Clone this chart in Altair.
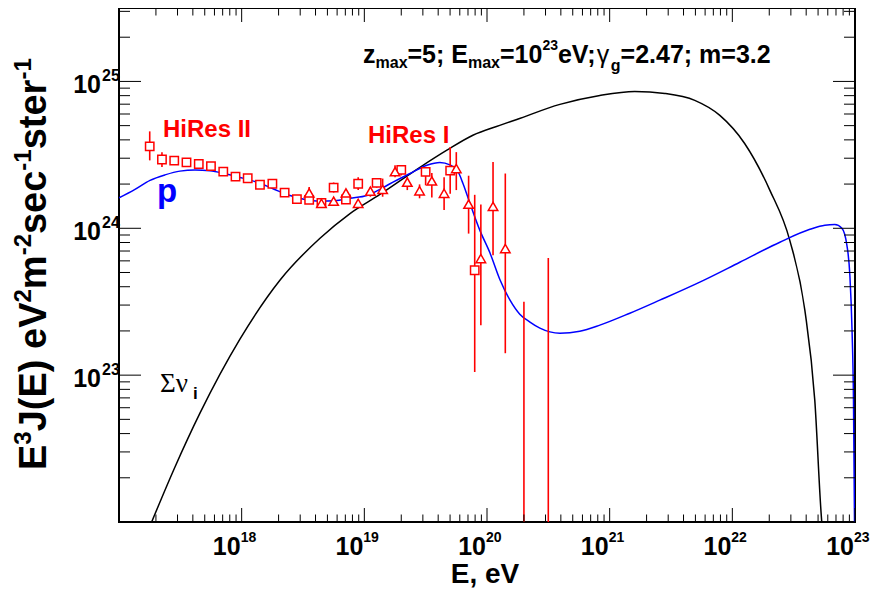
import altair as alt
import pandas as pd

# ---------------- data ----------------
# Sum of neutrino fluxes (black curve)
nu_E = [1.79e17, 2.86e17, 4.57e17, 9.68e17, 2.05e18, 4.35e18, 7.64e18, 1.34e19, 2.84e19, 4.71e19,
        7.67e19, 1.27e20, 1.75e20, 3.93e20, 8.32e20, 1.60e21, 2.82e21, 4.94e21, 7.91e21, 1.26e22,
        2.02e22, 2.94e22, 3.90e22, 4.70e22, 5.36e22, 5.50e22]
nu_F = [9.4e21, 2.37e22, 5.51e22, 1.76e23, 4.43e23, 8.55e23, 1.26e24, 1.70e24, 2.60e24, 3.40e24,
        4.30e24, 5.02e24, 5.51e24, 6.98e24, 8.03e24, 8.55e24, 8.28e24, 7.43e24, 5.87e24, 3.78e24,
        1.82e24, 8.28e23, 2.77e23, 6.76e22, 1.0e22, 8.0e21]

# protons (blue curve)
p_E = [1.00e17, 1.35e17, 1.79e17, 2.37e17, 3.14e17, 4.16e17, 5.52e17, 7.31e17, 9.68e17, 1.33e18,
       1.80e18, 2.48e18, 3.28e18, 4.35e18, 5.75e18, 7.64e18, 1.05e19, 1.34e19, 1.62e19, 2.36e19,
       3.24e19, 4.13e19, 4.99e19, 5.79e19, 6.37e19, 7.26e19, 8.75e19, 1.06e20, 1.27e20, 1.54e20,
       1.85e20, 2.24e20, 2.70e20, 3.26e20, 3.93e20, 5.71e20, 8.32e20, 1.46e21, 2.56e21, 5.43e21,
       1.15e22, 2.44e22, 4.29e22, 5.68e22, 6.85e22, 7.82e22, 8.59e22, 9.08e22, 9.46e22, 9.72e22,
       9.91e22]
p_F = [1.61e24, 1.84e24, 2.12e24, 2.31e24, 2.45e24, 2.49e24, 2.46e24, 2.35e24, 2.22e24, 2.06e24,
       1.86e24, 1.67e24, 1.57e24, 1.53e24, 1.54e24, 1.60e24, 1.67e24, 1.84e24, 2.01e24, 2.36e24,
       2.69e24, 2.81e24, 2.70e24, 2.44e24, 2.02e24, 1.48e24, 9.68e23, 6.76e23, 4.50e23, 3.24e23,
       2.60e23, 2.30e23, 2.09e23, 1.97e23, 1.93e23, 1.99e23, 2.19e23, 2.64e23, 3.24e23, 4.30e23,
       5.87e23, 8.04e23, 9.84e23, 1.05e24, 1.06e24, 1.00e24, 7.66e23, 4.79e23, 2.02e23, 6.76e22,
       1.0e22]

# HiRes II (open squares)
h2_E = [1.78e17, 2.24e17, 2.82e17, 3.55e17, 4.47e17, 5.62e17, 7.08e17, 8.91e17, 1.12e18, 1.41e18,
        1.78e18, 2.24e18, 2.82e18, 3.55e18, 4.47e18, 5.62e18, 7.08e18, 8.91e18, 1.26e19, 2.00e19,
        3.16e19, 5.01e19, 7.94e19]
h2_F = [3.61e24, 2.94e24, 2.89e24, 2.81e24, 2.74e24, 2.65e24, 2.43e24, 2.25e24, 2.19e24, 1.98e24,
        2.01e24, 1.75e24, 1.58e24, 1.56e24, 1.49e24, 1.89e24, 1.57e24, 2.01e24, 2.04e24, 2.50e24,
        2.42e24, 2.47e24, 5.18e23]
h2_lo = [2.90e24, 2.61e24, 2.78e24, 2.70e24, 2.63e24, 2.54e24, 2.33e24, 2.15e24, 2.09e24, 1.89e24,
         1.91e24, 1.66e24, 1.50e24, 1.47e24, 1.41e24, 1.75e24, 1.48e24, 1.82e24, 1.89e24, 2.29e24,
         1.96e24, 1.72e24, 1.05e23]
h2_hi = [4.57e24, 3.30e24, 3.00e24, 2.92e24, 2.85e24, 2.76e24, 2.53e24, 2.35e24, 2.29e24, 2.07e24,
         2.11e24, 1.84e24, 1.66e24, 1.65e24, 1.57e24, 2.05e24, 1.66e24, 2.23e24, 2.18e24, 2.69e24,
         2.61e24, 3.57e24, 1.69e24]

# HiRes I (open triangles); last two points lie below the frame, only their bars show
h1_E = [3.55e18, 4.47e18, 5.62e18, 7.08e18, 8.91e18, 1.12e19, 1.41e19, 1.78e19, 2.24e19, 2.82e19,
        3.55e19, 4.47e19, 5.62e19, 7.08e19, 8.91e19, 1.12e20, 1.41e20, 2.00e20, 3.16e20]
h1_F = [1.74e24, 1.48e24, 1.53e24, 1.74e24, 1.48e24, 1.79e24, 1.84e24, 2.43e24, 2.06e24, 1.80e24,
        2.10e24, 1.73e24, 2.55e24, 1.46e24, 6.22e23, 1.41e24, 7.28e23, 5.0e21, 5.0e21]
h1_lo = [1.60e24, 1.42e24, 1.47e24, 1.64e24, 1.40e24, 1.64e24, 1.64e24, 2.23e24, 1.82e24, 1.60e24,
         1.62e24, 1.33e24, 1.82e24, 9.2e23, 2.19e23, 6.55e23, 1.41e23, 1.0e21, 1.0e21]
h1_hi = [1.91e24, 1.55e24, 1.60e24, 1.85e24, 1.56e24, 1.91e24, 2.18e24, 2.69e24, 2.23e24, 1.99e24,
         2.38e24, 2.23e24, 3.30e24, 2.28e24, 1.45e24, 2.83e24, 2.36e24, 3.16e23, 6.28e23]

# axis ticks and labels
x_major = [1e17, 1e18, 1e19, 1e20, 1e21, 1e22, 1e23]
x_label_vals = [1e18, 1e19, 1e20, 1e21, 1e22, 1e23]
x_label_exp = ["18", "19", "20", "21", "22", "23"]
y_major = [1e22, 1e23, 1e24, 1e25]
y_label_vals = [1e23, 1e24, 1e25]
y_label_exp = ["23", "24", "25"]
minor_mult = [2, 3, 4, 5, 6, 7, 8, 9]
X_DOMAIN = [1e17, 1e23]
Y_DOMAIN = [1e22, 3.162e25]

# ---------------- layout ----------------
W, H = 736, 514
LEFT, TOP = 119, 8          # page position of the plot area
FONT = "Liberation Sans"
RED, BLUE = "#ff0000", "#0000ff"

x_minor = [m * e for e in x_major[:-1] for m in minor_mult]
y_minor = [m * e for e in y_major for m in minor_mult if m * e < Y_DOMAIN[1]]

xs = alt.Scale(type="log", domain=X_DOMAIN, nice=False)
ys = alt.Scale(type="log", domain=Y_DOMAIN, nice=False)
X = alt.X("E:Q", scale=xs, axis=None)
Y = alt.Y("F:Q", scale=ys, axis=None)

ONE = pd.DataFrame({"k": [0]})

AW = {' ': 278, '(': 333, ')': 333, ',': 278, '-': 333, '.': 278, ';': 333, '=': 584,
      'E': 667, 'J': 556, 'V': 667, 'a': 556, 'c': 556, 'e': 556, 'g': 611, 'm': 889,
      'r': 389, 's': 556, 't': 333, 'x': 556, 'z': 500, 'γ': 556}


def tw(s, size):
    return sum(AW.get(c, 556) for c in s) * size / 1000.0


def label(t, x, y, size, color="black", weight="bold", align="left", angle=0, font=FONT):
    return alt.Chart(ONE).mark_text(
        text=t, fontSize=size, fontWeight=weight, color=color, align=align,
        baseline="alphabetic", angle=angle, font=font
    ).encode(x=alt.value(x - LEFT), y=alt.value(y - TOP))


layers = []

# curves
layers.append(alt.Chart(pd.DataFrame({"E": nu_E, "F": nu_F})).mark_line(
    color="black", strokeWidth=1.5, clip=True, interpolate="monotone").encode(x=X, y=Y))
layers.append(alt.Chart(pd.DataFrame({"E": p_E, "F": p_F})).mark_line(
    color=BLUE, strokeWidth=1.5, clip=True, interpolate="monotone").encode(x=X, y=Y))

# data with error bars
h2 = pd.DataFrame({"E": h2_E, "F": h2_F, "lo": h2_lo, "hi": h2_hi})
h1 = pd.DataFrame({"E": h1_E, "F": h1_F, "lo": h1_lo, "hi": h1_hi})
for d in (h2, h1):
    layers.append(alt.Chart(d).mark_rule(color=RED, strokeWidth=1.6, clip=True).encode(
        x=X, y=alt.Y("lo:Q", scale=ys, axis=None), y2="hi:Q"))
layers.append(alt.Chart(h2).mark_point(shape="square", size=70, stroke=RED, fill="white",
                                       fillOpacity=1, strokeWidth=1.5, clip=True).encode(x=X, y=Y))
layers.append(alt.Chart(h1).mark_point(shape="triangle-up", size=90, stroke=RED, fill="white",
                                       fillOpacity=1, strokeWidth=1.5, clip=True).encode(x=X, y=Y))


# ticks (inside the frame)
def xticks(vals, length):
    d = pd.DataFrame({"E": vals})
    bot = alt.Chart(d).mark_rule(color="black", strokeWidth=1).encode(
        x=X, y=alt.value(H), y2=alt.value(H - length))
    top = alt.Chart(d).mark_rule(color="black", strokeWidth=1).encode(
        x=X, y=alt.value(0), y2=alt.value(length))
    return [bot, top]


def yticks(vals, length):
    d = pd.DataFrame({"F": vals})
    lft = alt.Chart(d).mark_rule(color="black", strokeWidth=1).encode(
        y=Y, x=alt.value(0), x2=alt.value(length))
    rgt = alt.Chart(d).mark_rule(color="black", strokeWidth=1).encode(
        y=Y, x=alt.value(W), x2=alt.value(W - length))
    return [lft, rgt]


layers += xticks(x_major, 14) + xticks(x_minor, 7.5)
layers += yticks(y_major, 22) + yticks(y_minor, 11)

# tick labels 10^n
xl = pd.DataFrame({"E": x_label_vals, "t": x_label_exp})
layers.append(alt.Chart(xl).mark_text(text="10", fontSize=25, fontWeight="bold", font=FONT,
                                      align="right", baseline="alphabetic", dx=-1).encode(
    x=X, y=alt.value(555 - TOP)))
layers.append(alt.Chart(xl).mark_text(fontSize=14, fontWeight="bold", font=FONT,
                                      align="left", baseline="alphabetic", dx=-1).encode(
    x=X, y=alt.value(542 - TOP), text="t:N"))
yl = pd.DataFrame({"F": y_label_vals, "t": y_label_exp})
layers.append(alt.Chart(yl).mark_text(text="10", fontSize=25, fontWeight="bold", font=FONT,
                                      align="right", baseline="alphabetic", dy=12).encode(
    y=Y, x=alt.value(101 - LEFT)))
layers.append(alt.Chart(yl).mark_text(fontSize=16, fontWeight="bold", font=FONT,
                                      align="left", baseline="alphabetic", dy=0).encode(
    y=Y, x=alt.value(102 - LEFT), text="t:N"))

# axis titles
layers.append(label("E, eV", 485, 583, 28, align="center"))
ypieces = [("E", 38, 0), ("3", 24, 15), ("J(E) eV", 38, 0), ("2", 24, 15), ("m", 38, 0),
           ("-2", 24, 15), ("sec", 38, 0), ("-1", 24, 15), ("ster", 38, 0), ("-1", 24, 15)]
pos = 470
for t, s, r in ypieces:
    layers.append(label(t, 46 - r, pos, s, angle=270))
    pos -= tw(t, s)

# top annotation
tpieces = [("z", 25, 0, "bold"), ("max", 16, -5, "bold"), ("=5; E", 25, 0, "bold"),
           ("max", 16, -5, "bold"), ("=10", 25, 0, "bold"), ("23", 14, 13, "bold"),
           ("eV;", 25, 0, "bold"), ("γ", 25, 0, "normal"), ("g", 16, -8, "bold"),
           ("=2.47; m=3.2", 25, 0, "bold")]
pos = 363
for t, s, r, w in tpieces:
    layers.append(label(t, pos, 63 - r, s, weight=w))
    pos += tw(t, s)

# in-plot labels
layers.append(label("HiRes II", 163, 137, 24, color=RED))
layers.append(label("HiRes I", 368, 143, 24, color=RED))
layers.append(label("p", 157, 202, 33, color=BLUE))
layers.append(label("Σν", 160, 392, 27, weight="normal", font="Liberation Serif"))
layers.append(label("i", 193, 399, 17))

chart = alt.layer(*layers).properties(
    width=W, height=H,
    autosize=alt.AutoSizeParams(type="none"),
    padding={"left": LEFT - 8, "top": TOP - 8, "right": 15, "bottom": 67},
).configure_view(stroke="black", strokeWidth=2)

chart.save("out.html", embed_options={"renderer": "svg", "actions": False})
